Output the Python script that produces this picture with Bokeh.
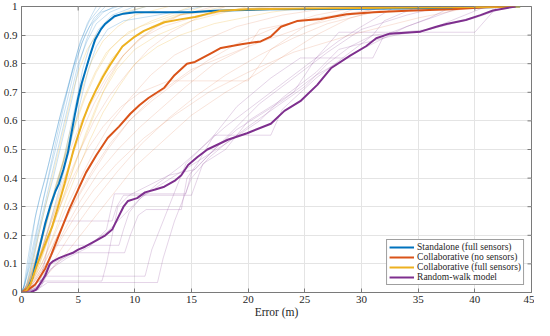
import math
from bokeh.plotting import figure
from bokeh.models import FixedTicker, Range1d, CustomJSTickFormatter
from bokeh.embed import file_html
from bokeh.resources import INLINE

# ---------------- data ----------------
series_names = ["Standalone (full sensors)", "Collaborative (no sensors)",
                "Collaborative (full sensors)", "Random-walk model"]
series_colors = ["#0072BD", "#D95319", "#EDB120", "#7E2F8E"]

x_ticks = [0, 5, 10, 15, 20, 25, 30, 35, 40, 45]
y_ticks = [0, 0.1, 0.2, 0.3, 0.4, 0.5, 0.6, 0.7, 0.8, 0.9, 1]
y_tick_labels = ["0", "0.1", "0.2", "0.3", "0.4", "0.5", "0.6", "0.7", "0.8", "0.9", "1"]

# mean CDF curves
standalone_err = [0, 0.3, 0.6, 0.96, 1.5, 2.1, 2.6, 3.0, 3.3, 3.7, 4.1, 4.4, 4.7, 5.0, 5.3,
                  5.6, 6.05, 6.5, 7.0, 7.4, 8.2, 9.0, 10.0, 15.0, 17.0, 22.0, 30.0, 38.0, 42.0, 44.0]
standalone_cdf = [0, 0, 0.017, 0.05, 0.142, 0.243, 0.31, 0.355, 0.38, 0.43, 0.49, 0.555, 0.62, 0.68, 0.73,
                  0.77, 0.83, 0.885, 0.92, 0.94, 0.966, 0.975, 0.98, 0.98, 0.985, 0.99, 0.992, 0.995, 0.998, 1.0]

collab_nosens_err = [0, 0.6, 1.2, 2.1, 2.6, 3.3, 4.2, 5.0, 5.7, 6.6, 7.6, 8.6, 9.6, 10.4, 11.2, 12.6,
                     13.5, 14.6, 15.3, 16.8, 17.6, 19.4, 21.1, 22.0, 22.9, 24.3, 26.4, 28.7, 31.1,
                     34.0, 38.0, 41.0, 43.5]
collab_nosens_cdf = [0, 0.01, 0.027, 0.084, 0.13, 0.2, 0.29, 0.36, 0.42, 0.48, 0.54, 0.58, 0.625, 0.655, 0.68, 0.716,
                     0.76, 0.8, 0.806, 0.838, 0.855, 0.868, 0.878, 0.895, 0.929, 0.949, 0.956, 0.973, 0.98,
                     0.985, 0.99, 0.997, 1.0]

collab_full_err = [0, 0.4, 0.8, 1.4, 2.0, 2.7, 3.3, 3.8, 4.2, 4.6, 5.0, 5.5, 6.0, 6.6, 7.2, 7.8, 8.9,
                   10.0, 10.8, 12.6, 14.0, 15.3, 16.5, 17.6, 20.0, 25.0, 30.0, 40.0, 44.0]
collab_full_cdf = [0, 0.005, 0.03, 0.1, 0.16, 0.23, 0.31, 0.38, 0.44, 0.5, 0.55, 0.61, 0.66, 0.71, 0.755, 0.795, 0.86,
                   0.895, 0.915, 0.945, 0.955, 0.963, 0.975, 0.985, 0.99, 0.993, 0.995, 0.998, 1.0]

random_walk_err = [0, 0.8, 1.3, 1.8, 2.1, 2.5, 2.8, 3.3, 3.9, 4.6, 5.0, 5.6, 6.5, 7.4, 8.0, 8.5, 9.0,
                   9.4, 10.2, 10.9, 11.8, 12.6, 13.5, 14.1, 14.7, 15.5, 16.4, 18.2, 19.9, 22.0, 23.2,
                   24.6, 26.1, 27.3, 29.0, 30.4, 31.3, 32.5, 35.2, 36.6, 37.5, 39.2, 40.5, 41.6, 43.6]
random_walk_cdf = [0, 0.0, 0.01, 0.04, 0.06, 0.1, 0.11, 0.12, 0.13, 0.14, 0.15, 0.16, 0.18, 0.2, 0.22, 0.26, 0.3,
                   0.32, 0.33, 0.35, 0.36, 0.37, 0.39, 0.41, 0.446, 0.473, 0.5, 0.534, 0.557, 0.59, 0.635,
                   0.669, 0.726, 0.784, 0.828, 0.861, 0.889, 0.905, 0.912, 0.929, 0.939, 0.953, 0.97, 0.986, 1.0]

# individual-run CDFs (faint lines)
standalone_runs_err = [
    [0, 0.3, 0.7, 1.2, 1.6, 2.1, 2.7, 3.3, 4.0, 4.7, 5.6, 6.4, 7.4],
    [0, 0.4, 0.9, 1.4, 2.0, 2.6, 3.2, 3.8, 4.4, 5.0, 5.8, 6.6, 7.8, 9.0],
    [0, 0.5, 1.1, 1.7, 2.4, 3.0, 3.7, 4.3, 4.9, 5.4, 6.0, 6.8, 8.0, 10.0],
    [0, 0.7, 1.4, 2.2, 2.9, 3.6, 4.2, 4.8, 5.4, 5.9, 6.6, 7.6, 9.0, 12.0, 16.0],
    [0, 0.3, 0.8, 1.3, 1.9, 2.5, 3.0, 3.6, 4.2, 4.8, 5.3, 6.0, 7.0, 8.5],
    [0, 0.2, 0.6, 1.0, 1.5, 2.0, 2.6, 3.2, 3.9, 4.5, 5.2, 6.0, 7.0],
    [0, 0.5, 1.0, 1.5, 2.1, 2.8, 3.4, 4.0, 4.6, 5.1, 5.7, 6.3, 7.2, 8.2],
    [0, 0.6, 1.2, 1.9, 2.6, 3.3, 4.0, 4.6, 5.2, 5.8, 6.4, 7.2, 8.5, 11.0],
    [0, 0.2, 0.5, 0.9, 1.3, 1.8, 2.4, 3.0, 3.6, 4.3, 5.0, 5.8, 6.6],
]
standalone_runs_cdf = [
    [0, 0.03, 0.12, 0.26, 0.33, 0.4, 0.5, 0.6, 0.7, 0.8, 0.9, 0.96, 1.0],
    [0, 0.02, 0.1, 0.2, 0.3, 0.4, 0.5, 0.6, 0.7, 0.8, 0.88, 0.94, 0.98, 1.0],
    [0, 0.02, 0.09, 0.18, 0.28, 0.37, 0.46, 0.57, 0.68, 0.78, 0.86, 0.92, 0.97, 1.0],
    [0, 0.02, 0.1, 0.2, 0.3, 0.4, 0.5, 0.6, 0.7, 0.78, 0.86, 0.92, 0.95, 0.97, 1.0],
    [0, 0.03, 0.1, 0.2, 0.32, 0.42, 0.5, 0.6, 0.7, 0.8, 0.87, 0.93, 0.98, 1.0],
    [0, 0.02, 0.08, 0.16, 0.25, 0.34, 0.45, 0.56, 0.68, 0.78, 0.88, 0.95, 1.0],
    [0, 0.03, 0.1, 0.2, 0.3, 0.4, 0.5, 0.6, 0.7, 0.8, 0.88, 0.94, 0.98, 1.0],
    [0, 0.02, 0.1, 0.2, 0.3, 0.4, 0.5, 0.6, 0.7, 0.8, 0.87, 0.93, 0.97, 1.0],
    [0, 0.02, 0.1, 0.2, 0.28, 0.36, 0.45, 0.55, 0.65, 0.75, 0.85, 0.94, 1.0],
]

collab_full_runs_err = [
    [0, 0.5, 1.0, 1.6, 2.3, 3.0, 3.6, 4.2, 4.8, 5.5, 6.2, 7.2, 8.5, 10.0, 13.0],
    [0, 0.6, 1.3, 2.0, 2.8, 3.6, 4.4, 5.2, 6.0, 7.0, 8.0, 9.5, 11.5, 14.0, 18.0],
    [0, 0.8, 1.6, 2.5, 3.4, 4.3, 5.2, 6.2, 7.2, 8.4, 10.0, 12.0, 15.0, 20.0],
    [0, 0.4, 0.9, 1.5, 2.1, 2.7, 3.3, 3.9, 4.5, 5.1, 5.8, 6.6, 7.6, 9.0, 11.0],
    [0, 1.0, 2.0, 3.0, 4.0, 5.0, 6.0, 7.2, 8.6, 10.0, 12.0, 14.0, 17.0, 22.0, 26.0],
    [0, 0.5, 1.1, 1.8, 2.5, 3.2, 3.9, 4.7, 5.6, 6.6, 7.8, 9.4, 11.5, 15.0],
    [0, 0.7, 1.4, 2.2, 3.0, 3.9, 4.8, 5.7, 6.7, 7.8, 9.0, 10.5, 12.5, 16.0],
    [0, 0.5, 1.1, 1.8, 2.5, 3.2, 4.0, 4.8, 5.6, 6.5, 7.5, 8.8, 10.5, 13.5, 22.0],
]
collab_full_runs_cdf = [
    [0, 0.02, 0.08, 0.16, 0.26, 0.36, 0.45, 0.55, 0.64, 0.73, 0.81, 0.88, 0.93, 0.97, 1.0],
    [0, 0.02, 0.09, 0.17, 0.27, 0.37, 0.47, 0.57, 0.66, 0.75, 0.82, 0.88, 0.93, 0.97, 1.0],
    [0, 0.03, 0.1, 0.2, 0.3, 0.4, 0.5, 0.6, 0.7, 0.78, 0.85, 0.9, 0.95, 1.0],
    [0, 0.02, 0.1, 0.2, 0.3, 0.4, 0.5, 0.6, 0.7, 0.78, 0.85, 0.9, 0.95, 0.98, 1.0],
    [0, 0.04, 0.12, 0.22, 0.33, 0.43, 0.53, 0.63, 0.72, 0.8, 0.86, 0.9, 0.94, 0.98, 1.0],
    [0, 0.02, 0.09, 0.18, 0.28, 0.38, 0.48, 0.58, 0.68, 0.77, 0.85, 0.91, 0.95, 1.0],
    [0, 0.02, 0.08, 0.17, 0.26, 0.36, 0.46, 0.56, 0.66, 0.75, 0.83, 0.89, 0.95, 1.0],
    [0, 0.02, 0.1, 0.2, 0.3, 0.4, 0.5, 0.6, 0.69, 0.77, 0.84, 0.89, 0.93, 0.97, 1.0],
]

collab_nosens_runs_err = [
    [0, 0.6, 1.3, 2.0, 2.8, 3.6, 4.5, 5.4, 6.4, 7.5, 8.8, 10.2, 12.0, 14.0, 17.0],
    [0, 0.8, 1.8, 2.9, 4.0, 5.2, 6.5, 8.0, 9.6, 11.4, 13.5, 16.0, 19.0, 23.0, 28.0],
    [0, 1.2, 2.5, 3.8, 5.2, 6.8, 8.5, 10.5, 12.5, 14.5, 17.0, 20.0, 25.0, 32.0],
    [0, 1.0, 2.2, 3.4, 4.8, 6.4, 8.4, 10.8, 13.5, 16.5, 20.0, 24.0, 29.0, 35.0, 40.0],
    [0, 0.7, 1.5, 2.4, 3.4, 4.5, 5.8, 7.2, 8.8, 10.5, 13.0, 20.0, 22.0, 25.0, 30.0],
    [0, 0.5, 1.1, 1.8, 2.6, 3.4, 4.3, 5.3, 6.4, 7.6, 9.0, 10.6, 12.5, 15.0, 19.0, 24.0],
    [0, 1.5, 3.0, 4.6, 6.4, 8.4, 10.6, 13.0, 15.5, 18.0, 21.0, 24.0, 27.0, 31.0, 36.0],
    [0, 0.9, 2.0, 3.2, 4.5, 6.0, 7.6, 9.5, 11.5, 15.0, 20.0, 21.0, 26.0, 33.0],
    [0, 0.8, 1.7, 2.7, 3.8, 5.0, 6.3, 7.8, 9.5, 11.5, 13.8, 16.4, 19.0, 22.0, 26.0, 30.0],
    [0, 2.0, 4.0, 6.0, 8.0, 10.0, 12.5, 15.0, 18.0, 21.0, 24.0, 26.0, 29.0, 33.0],
    [0, 0.6, 1.4, 2.2, 3.1, 4.1, 5.2, 6.4, 7.8, 9.4, 11.2, 13.2, 15.5, 18.0],
]
collab_nosens_runs_cdf = [
    [0, 0.03, 0.1, 0.18, 0.28, 0.38, 0.48, 0.57, 0.66, 0.74, 0.82, 0.88, 0.93, 0.97, 1.0],
    [0, 0.03, 0.1, 0.2, 0.3, 0.4, 0.5, 0.6, 0.68, 0.76, 0.83, 0.88, 0.93, 0.97, 1.0],
    [0, 0.04, 0.12, 0.22, 0.32, 0.42, 0.5, 0.58, 0.65, 0.72, 0.8, 0.86, 0.93, 1.0],
    [0, 0.03, 0.1, 0.18, 0.27, 0.36, 0.45, 0.54, 0.62, 0.7, 0.77, 0.84, 0.9, 0.96, 1.0],
    [0, 0.03, 0.1, 0.2, 0.3, 0.4, 0.5, 0.58, 0.65, 0.7, 0.74, 0.74, 0.85, 0.93, 1.0],
    [0, 0.03, 0.1, 0.2, 0.3, 0.4, 0.5, 0.6, 0.68, 0.76, 0.83, 0.89, 0.93, 0.96, 0.99, 1.0],
    [0, 0.04, 0.12, 0.22, 0.32, 0.42, 0.52, 0.61, 0.69, 0.76, 0.83, 0.89, 0.94, 0.98, 1.0],
    [0, 0.03, 0.1, 0.2, 0.3, 0.4, 0.5, 0.6, 0.68, 0.78, 0.86, 0.92, 0.96, 1.0],
    [0, 0.02, 0.08, 0.16, 0.25, 0.34, 0.43, 0.52, 0.6, 0.67, 0.74, 0.81, 0.87, 0.92, 0.97, 1.0],
    [0, 0.05, 0.14, 0.24, 0.34, 0.44, 0.53, 0.62, 0.7, 0.77, 0.85, 0.9, 0.96, 1.0],
    [0, 0.03, 0.1, 0.2, 0.3, 0.4, 0.5, 0.6, 0.69, 0.77, 0.85, 0.91, 0.96, 1.0],
]

random_walk_runs_err = [
    [0, 1.5, 2.0, 2.8, 8.0, 8.4, 9.0, 15.0, 16.0, 18.0, 20.0, 24.0, 26.0, 28.0, 40.0, 42.0],
    [0, 1.2, 2.1, 10.9, 11.5, 12.5, 13.5, 14.5, 17.0, 19.0, 22.0, 24.6, 31.0, 32.0, 36.0, 38.0],
    [0, 1.0, 2.1, 7.1, 7.5, 8.0, 8.5, 9.5, 13.0, 15.3, 17.0, 19.0, 21.0, 24.0, 27.0, 30.0, 34.0, 37.0],
    [0, 1.6, 3.0, 8.6, 9.0, 9.5, 10.5, 12.0, 14.0, 16.0, 18.0, 21.0, 23.0, 26.0, 28.0, 33.0, 36.0, 40.0, 43.0],
    [0, 1.8, 2.6, 4.7, 9.1, 9.6, 10.3, 11.0, 14.1, 14.6, 15.5, 17.0, 22.0, 23.0, 26.0, 31.0, 32.0, 35.0],
    [0, 2.0, 3.0, 4.5, 6.0, 7.5, 9.0, 10.5, 12.0, 14.0, 16.0, 18.0, 20.0, 22.0, 24.0, 26.0, 28.0, 30.0, 33.0],
    [0, 1.4, 2.3, 12.0, 12.5, 13.5, 15.0, 16.5, 18.0, 20.0, 22.5, 25.0, 27.0, 29.0, 31.0, 36.0, 41.0],
    [0, 1.7, 2.5, 4.0, 6.0, 7.5, 8.2, 14.5, 15.0, 17.0, 19.0, 21.0, 23.0, 26.0, 30.0, 34.0, 39.0],
]
random_walk_runs_cdf = [
    [0, 0.01, 0.1, 0.25, 0.25, 0.3, 0.34, 0.34, 0.45, 0.5, 0.6, 0.7, 0.82, 0.91, 0.91, 1.0],
    [0, 0.01, 0.057, 0.057, 0.15, 0.25, 0.35, 0.45, 0.55, 0.65, 0.75, 0.82, 0.82, 0.9, 0.96, 1.0],
    [0, 0.01, 0.04, 0.04, 0.1, 0.2, 0.3, 0.34, 0.41, 0.43, 0.5, 0.58, 0.66, 0.75, 0.84, 0.92, 0.97, 1.0],
    [0, 0.02, 0.165, 0.165, 0.22, 0.28, 0.33, 0.37, 0.42, 0.47, 0.52, 0.6, 0.68, 0.77, 0.85, 0.9, 0.92, 0.96, 1.0],
    [0, 0.03, 0.1, 0.139, 0.139, 0.2, 0.27, 0.29, 0.29, 0.4, 0.45, 0.55, 0.55, 0.64, 0.75, 0.9, 0.95, 1.0],
    [0, 0.05, 0.1, 0.14, 0.17, 0.21, 0.27, 0.33, 0.38, 0.44, 0.51, 0.58, 0.64, 0.7, 0.76, 0.82, 0.88, 0.93, 1.0],
    [0, 0.01, 0.035, 0.035, 0.12, 0.25, 0.4, 0.47, 0.52, 0.58, 0.65, 0.72, 0.8, 0.86, 0.9, 0.92, 1.0],
    [0, 0.02, 0.08, 0.12, 0.16, 0.22, 0.345, 0.345, 0.42, 0.5, 0.57, 0.62, 0.67, 0.76, 0.85, 0.93, 1.0],
]

# ---------------- figure ----------------
FONT = "Liberation Serif"
AXIS_GREY = "#7a7a7a"
TEXT_COL = "#262626"

x_range = Range1d(0, 45)
y_range = Range1d(0, 1)
p = figure(width=534, height=320, output_backend="svg", toolbar_location=None,
           x_range=x_range, y_range=y_range,
           min_border_left=19, min_border_right=3, min_border_top=6, min_border_bottom=28)
p.background_fill_color = "white"
p.border_fill_color = "white"
p.outline_line_color = AXIS_GREY
p.outline_line_width = 1

p.xaxis.ticker = FixedTicker(ticks=x_ticks)
p.yaxis.ticker = FixedTicker(ticks=y_ticks)
p.yaxis.major_label_overrides = {t: l for t, l in zip(y_ticks, y_tick_labels)}
p.yaxis.formatter = CustomJSTickFormatter(code="return String(Number(tick.toFixed(1)));")
p.xaxis.axis_label = "Error (m)"

for ax in (p.xaxis[0], p.yaxis[0]):
    ax.axis_line_color = AXIS_GREY
    ax.major_tick_line_color = AXIS_GREY
    ax.major_tick_in = 4
    ax.major_tick_out = 0
    ax.minor_tick_line_color = None
    ax.major_label_text_font = FONT
    ax.major_label_text_font_size = "11px"
    ax.major_label_text_color = TEXT_COL
    ax.axis_label_text_font = FONT
    ax.axis_label_text_font_size = "11.5px"
    ax.axis_label_text_font_style = "normal"
    ax.axis_label_text_color = TEXT_COL
p.xaxis.major_label_standoff = 3
p.yaxis.major_label_standoff = 4
p.xaxis.axis_label_standoff = 0

p.grid.grid_line_color = "#e4e4e4"
p.grid.grid_line_width = 1
p.xgrid.ticker = FixedTicker(ticks=x_ticks)
p.ygrid.ticker = FixedTicker(ticks=y_ticks)

# faint individual runs
run_sets = [
    (standalone_runs_err, standalone_runs_cdf, series_colors[0], 0.28),
    (collab_full_runs_err, collab_full_runs_cdf, series_colors[2], 0.3),
    (collab_nosens_runs_err, collab_nosens_runs_cdf, series_colors[1], 0.2),
    (random_walk_runs_err, random_walk_runs_cdf, series_colors[3], 0.26),
]
for xs, ys, col, a in run_sets:
    p.multi_line(xs, ys, line_color=col, line_alpha=a, line_width=0.8)

# mean curves
main = [
    (standalone_err, standalone_cdf),
    (collab_nosens_err, collab_nosens_cdf),
    (collab_full_err, collab_full_cdf),
    (random_walk_err, random_walk_cdf),
]
for (xs, ys), name, col in zip(main, series_names, series_colors):
    p.line(xs, ys, line_color=col, line_width=2, legend_label=name)

# mirrored inward tick marks on the top and right edges of the box
p.scatter(x=x_ticks, y=[y_range.end] * len(x_ticks), marker="dash", size=8,
          angle=math.pi / 2, line_color=AXIS_GREY, line_width=1)
p.scatter(x=[x_range.end] * len(y_ticks), y=y_ticks, marker="dash", size=8,
          line_color=AXIS_GREY, line_width=1)

lg = p.legend[0]
lg.location = "bottom_right"
lg.margin = 7
lg.padding = 2
lg.spacing = 0
lg.label_text_font = FONT
lg.label_text_font_size = "9.5px"
lg.label_text_color = TEXT_COL
lg.label_height = 10
lg.glyph_height = 10
lg.glyph_width = 25
lg.label_standoff = 3
lg.border_line_color = "#404040"
lg.border_line_width = 1
lg.background_fill_alpha = 1

open("out.html", "w").write(file_html(p, INLINE))
